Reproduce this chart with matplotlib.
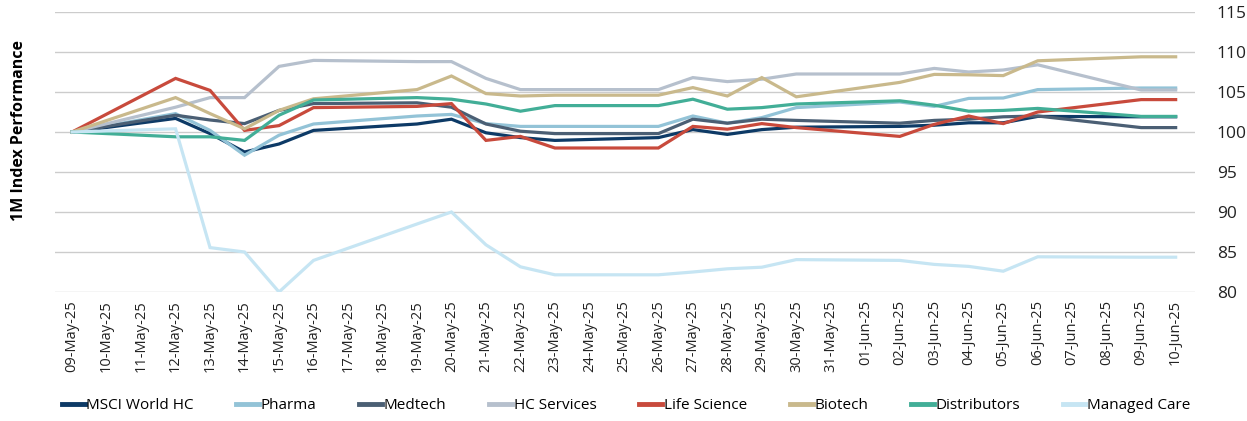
import matplotlib.pyplot as plt
import pandas as pd

plt.rcParams['font.family'] = ['Open Sans', 'DejaVu Sans']

all_days = pd.date_range('2025-05-09', '2025-06-10', freq='D')
day_labels = [d.strftime('%d-%b-%y') for d in all_days]

trade_days = ['09-May-25', '12-May-25', '13-May-25', '14-May-25', '15-May-25', '16-May-25',
              '19-May-25', '20-May-25', '21-May-25', '22-May-25', '23-May-25', '26-May-25',
              '27-May-25', '28-May-25', '29-May-25', '30-May-25', '02-Jun-25', '03-Jun-25',
              '04-Jun-25', '05-Jun-25', '06-Jun-25', '09-Jun-25', '10-Jun-25']

msci = [100, 101.7, 99.8, 97.5, 98.5, 100.2, 101.0, 101.6, 99.9, 99.3, 98.95, 99.3,
        100.3, 99.7, 100.3, 100.6, 100.7, 100.85, 101.15, 101.15, 101.95, 101.9, 101.9]
pharma = [100, 102.3, 100.2, 97.1, 99.6, 101.0, 102.0, 102.2, 101.05, 100.7, 100.7, 100.7,
          102.0, 101.1, 101.8, 103.05, 103.75, 103.2, 104.2, 104.25, 105.3, 105.5, 105.5]
medtech = [100, 102.1, 101.5, 101.05, 102.7, 103.55, 103.65, 103.1, 101.0, 100.1, 99.8, 99.8,
           101.6, 101.1, 101.6, 101.45, 101.1, 101.45, 101.6, 101.9, 102.0, 100.55, 100.55]
hc_services = [100, 103.1, 104.3, 104.3, 108.2, 108.95, 108.8, 108.8, 106.7, 105.3, 105.3, 105.3,
               106.8, 106.3, 106.6, 107.25, 107.25, 107.95, 107.5, 107.75, 108.4, 105.25, 105.25]
life_science = [100, 106.7, 105.2, 100.2, 100.8, 103.05, 103.2, 103.55, 98.95, 99.45, 98.0, 98.0,
                100.7, 100.35, 101.05, 100.55, 99.45, 100.95, 102.0, 101.05, 102.5, 104.05, 104.05]
biotech = [100, 104.3, 102.3, 100.4, 102.7, 104.15, 105.3, 107.0, 104.8, 104.5, 104.6, 104.6,
           105.55, 104.5, 106.8, 104.4, 106.2, 107.2, 107.15, 107.05, 108.9, 109.4, 109.4]
distributors = [100, 99.4, 99.4, 98.95, 102.1, 104.0, 104.3, 104.1, 103.5, 102.6, 103.3, 103.3,
                104.1, 102.85, 103.05, 103.5, 103.9, 103.35, 102.6, 102.7, 102.95, 101.95, 101.95]
managed_care = [100, 100.4, 85.55, 85.0, 80.0, 83.95, 88.5, 90.0, 85.9, 83.15, 82.15, 82.15,
                82.5, 82.9, 83.1, 84.05, 83.95, 83.45, 83.2, 82.6, 84.4, 84.35, 84.35]

series = [
    ('MSCI World HC', msci, '#0d3a66'),
    ('Pharma', pharma, '#93c3d7'),
    ('Medtech', medtech, '#4b5f74'),
    ('HC Services', hc_services, '#b6c0cd'),
    ('Life Science', life_science, '#c84a3c'),
    ('Biotech', biotech, '#c9b98c'),
    ('Distributors', distributors, '#42ae97'),
    ('Managed Care', managed_care, '#c6e5f3'),
]

x = [day_labels.index(d) for d in trade_days]

fig = plt.figure(figsize=(12.47, 4.21), dpi=100)
ax = fig.add_axes([0.044, 0.3064, 0.914, 0.6651])

for name, vals, col in series:
    ax.plot(x, vals, color=col, lw=2.3, label=name, solid_joinstyle='miter')

ax.set_xlim(-0.5, len(day_labels) - 0.45)
ax.set_ylim(80, 115)
ax.set_yticks(range(80, 116, 5))
ax.yaxis.tick_right()
ax.set_xticks(range(len(day_labels)))
ax.set_xticklabels(day_labels, rotation=90, fontsize=10.5, color='#222222')
ax.tick_params(axis='y', labelsize=12.5, colors='#222222', length=0, pad=16)
ax.tick_params(axis='x', length=0, pad=6)
ax.grid(axis='y', color='#cccccc', lw=1)
ax.set_axisbelow(True)
for s in ax.spines.values():
    s.set_visible(False)

fig.text(0.015, 0.69, '1M Index Performance', rotation=90, ha='center', va='center',
         fontsize=11.5, fontweight='bold')

leg = fig.legend(loc='center', bbox_to_anchor=(0.502, 0.036), ncol=8, frameon=False,
                 fontsize=11, handlelength=1.5, handletextpad=0.1, columnspacing=2.8)
for h in leg.get_lines():
    h.set_linewidth(3.5)

fig.savefig('out.png', dpi=100)
